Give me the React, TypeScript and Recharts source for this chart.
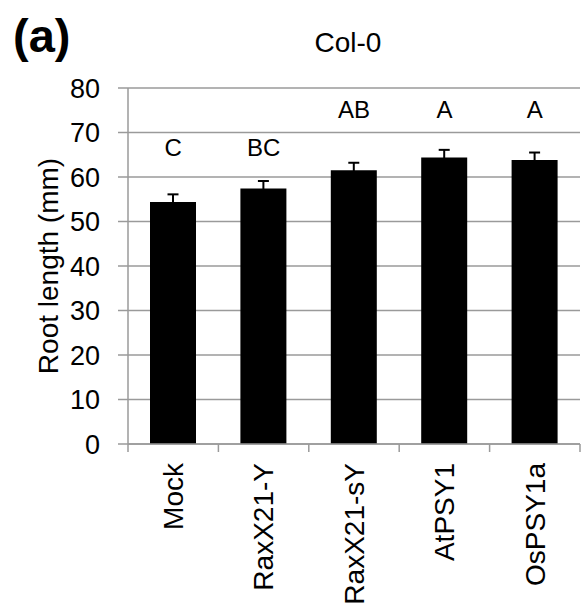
import { ComposedChart, Bar, Line, XAxis, YAxis, CartesianGrid, ErrorBar, LabelList } from "recharts";

const categories = ["Mock", "RaxX21-Y", "RaxX21-sY", "AtPSY1", "OsPSY1a"];
const rootLength = [54.4, 57.4, 61.5, 64.4, 63.8];
const rootError = [1.7, 1.7, 1.7, 1.7, 1.7];
const letters = ["C", "BC", "AB", "A", "A"];
const letterLevel = [66.6, 66.6, 75.1, 75.1, 75.1];
const yTicks = [0, 10, 20, 30, 40, 50, 60, 70, 80];
const edgeTicks = [0, 1, 2, 3, 4, 5];

const FONT = "'Liberation Sans', Arial, sans-serif";
const GREY = "#9a9a9a";

const data = categories.map((name, i) => ({
  name,
  pos: i + 0.5,
  value: rootLength[i],
  err: rootError[i],
  letter: letters[i],
  letterLevel: letterLevel[i],
}));

// tick lines sit on the category edges, names go in the middle of each band
const CategoryTick = (props: any) => {
  const { x, y, payload } = props;
  const name = categories[payload.value];
  if (!name) return <g />;
  const cx = x + 45.5;
  return (
    <text
      x={cx}
      y={y}
      transform={`rotate(-90, ${cx}, ${y})`}
      textAnchor="end"
      dominantBaseline="central"
      fontSize={28}
      fill="#000"
      fontFamily={FONT}
    >
      {name}
    </text>
  );
};

const App = () => {
  return (
    <div style={{ position: "absolute", left: 0, top: 0, width: 581, height: 610, background: "#fff", fontFamily: FONT }}>
      <div style={{ position: "absolute", left: 13, top: 10, fontSize: 47, fontWeight: "bold", lineHeight: "52px" }}>(a)</div>
      <div style={{ position: "absolute", left: 248, width: 200, top: 27, textAlign: "center", fontSize: 28, lineHeight: "32px" }}>Col-0</div>
      <ComposedChart width={581} height={610} data={data} margin={{ top: 88, right: 1, left: 0, bottom: 0 }}>
        <CartesianGrid vertical={false} stroke={GREY} strokeWidth={1.5} />
        <XAxis
          type="number"
          dataKey="pos"
          domain={[0, 5]}
          ticks={edgeTicks}
          interval={0}
          height={166}
          tickSize={8}
          tickMargin={11}
          axisLine={{ stroke: GREY, strokeWidth: 1.5 }}
          tickLine={{ stroke: GREY, strokeWidth: 1.5 }}
          tick={<CategoryTick />}
        />
        <YAxis
          domain={[0, 80]}
          ticks={yTicks}
          interval={0}
          width={128}
          tickSize={10}
          tickMargin={18}
          axisLine={{ stroke: GREY, strokeWidth: 1.5 }}
          tickLine={{ stroke: GREY, strokeWidth: 1.5 }}
          tick={{ fontSize: 27, fill: "#000", fontFamily: FONT }}
          label={{
            value: "Root length (mm)",
            angle: -90,
            position: "insideLeft",
            offset: 48,
            style: { textAnchor: "middle", fontSize: 28, fill: "#000", fontFamily: FONT },
          }}
        />
        <Bar dataKey="value" fill="#000" barSize={46} isAnimationActive={false}>
          <ErrorBar dataKey="err" direction="y" width={5.5} stroke="#000" strokeWidth={2} />
        </Bar>
        <Line dataKey="letterLevel" stroke="none" dot={false} activeDot={false} legendType="none" isAnimationActive={false}>
          <LabelList dataKey="letter" position="center" fill="#000" fontSize={24} fontFamily={FONT} />
        </Line>
      </ComposedChart>
    </div>
  );
};

export default App;
